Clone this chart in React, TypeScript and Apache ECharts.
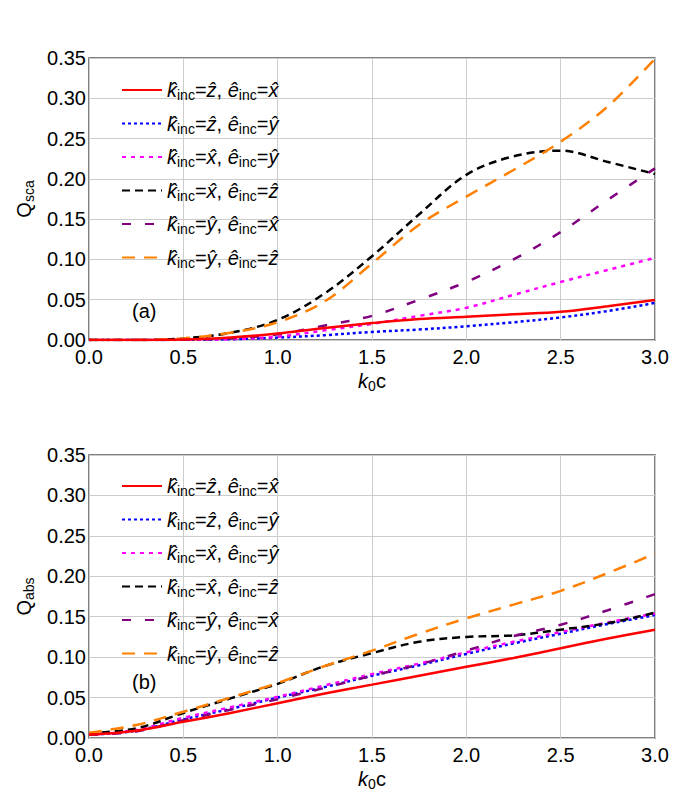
import React, { useEffect, useRef } from "react";
import * as echarts from "echarts";

const xValues = [0, 0.25, 0.5, 0.75, 1.0, 1.25, 1.5, 1.75, 2.0, 2.25, 2.5, 2.75, 3.0];

const kDirs = ["ẑ", "ẑ", "x̂", "x̂", "ŷ", "ŷ"];
const eDirs = ["x̂", "ŷ", "ŷ", "ẑ", "x̂", "ẑ"];
const seriesNames = kDirs.map((k, i) => `k̂inc=${k}, êinc=${eDirs[i]}`);

// Q_sca (panel a)
const scaRed = [0, 0, 0.0005, 0.003, 0.008, 0.015, 0.021, 0.026, 0.029, 0.032, 0.035, 0.042, 0.0496];
const scaBlue = [0, 0, 0.0002, 0.001, 0.003, 0.006, 0.010, 0.013, 0.017, 0.022, 0.028, 0.036, 0.046];
const scaMagenta = [0, 0, 0.0003, 0.001, 0.004, 0.012, 0.020, 0.030, 0.040, 0.056, 0.072, 0.087, 0.102];
const scaBlack = [0, 0, 0.002, 0.009, 0.025, 0.058, 0.104, 0.156, 0.205, 0.228, 0.235, 0.221, 0.206];
const scaPurple = [0, 0, 0.0004, 0.002, 0.007, 0.018, 0.030, 0.050, 0.072, 0.100, 0.134, 0.174, 0.213];
const scaOrange = [0, 0, 0.002, 0.009, 0.022, 0.048, 0.095, 0.143, 0.178, 0.211, 0.246, 0.290, 0.349];

// Q_abs (panel b)
const absRed = [0.004, 0.009, 0.020, 0.031, 0.043, 0.055, 0.066, 0.077, 0.088, 0.099, 0.111, 0.123, 0.134];
const absBlue = [0.004, 0.009, 0.023, 0.036, 0.050, 0.063, 0.077, 0.090, 0.104, 0.117, 0.129, 0.141, 0.152];
const absMagenta = [0.004, 0.010, 0.025, 0.038, 0.051, 0.065, 0.079, 0.092, 0.106, 0.119, 0.131, 0.143, 0.154];
const absBlack = [0.006, 0.012, 0.031, 0.049, 0.067, 0.089, 0.105, 0.119, 0.125, 0.127, 0.134, 0.142, 0.155];
const absPurple = [0.004, 0.008, 0.022, 0.035, 0.048, 0.062, 0.077, 0.091, 0.108, 0.126, 0.140, 0.158, 0.178];
const absOrange = [0.0066, 0.016, 0.0325, 0.050, 0.068, 0.089, 0.108, 0.129, 0.148, 0.165, 0.182, 0.204, 0.228];

const scaData = [scaRed, scaBlue, scaMagenta, scaBlack, scaPurple, scaOrange];
const absData = [absRed, absBlue, absMagenta, absBlack, absPurple, absOrange];

const colors = ["#ff0000", "#0000ff", "#ff00ff", "#000000", "#800080", "#ff8000"];
const dashes: (string | number[])[] = ["solid", [3, 3], [4, 5], [8, 5], [9, 14], [13, 9]];

const FONT = "Liberation Sans, Arial, sans-serif";

const richStyles = {
  n: { fontSize: 20, fontFamily: FONT, color: "#000", lineHeight: 24, verticalAlign: "middle" },
  i: { fontSize: 20, fontFamily: FONT, fontStyle: "italic", color: "#000", lineHeight: 24, verticalAlign: "middle" },
  s: { fontSize: 14, fontFamily: FONT, color: "#000", lineHeight: 14, verticalAlign: "bottom" },
};

function legendLabel(name: string) {
  const idx = seriesNames.indexOf(name);
  const k = kDirs[idx];
  const e = eDirs[idx];
  return `{i|k̂}{s|inc}{n|=}{i|${k}}{n|, }{i|ê}{s|inc}{n|=}{i|${e}}`;
}

export default function App() {
  const ref = useRef<HTMLDivElement>(null);
  useEffect(() => {
    document.body.style.margin = "0";
    const chart = echarts.init(ref.current!, undefined, { renderer: "svg" });
    const grids = [
      { left: 89, top: 58, width: 566, height: 282 },
      { left: 89, top: 455, width: 566, height: 283 },
    ];
    const xAxis = [0, 1].map((g) => ({
      type: "value",
      gridIndex: g,
      min: 0,
      max: 3,
      interval: 0.5,
      name: "{i|k}{s|0}{n|c}",
      nameLocation: "middle",
      nameGap: 29,
      nameTextStyle: { rich: richStyles },
      axisLine: { show: false },
      axisTick: { show: false },
      axisLabel: {
        formatter: (v: number) => v.toFixed(1),
        fontSize: 20,
        fontFamily: FONT,
        color: "#000",
        margin: 7,
      },
      splitLine: { show: true, lineStyle: { color: "#cccccc", width: 1 } },
    }));
    const yNames = ["{n|Q}{s|sca}", "{n|Q}{s|abs}"];
    const yAxis = [0, 1].map((g) => ({
      type: "value",
      gridIndex: g,
      min: 0,
      max: 0.35,
      interval: 0.05,
      name: yNames[g],
      nameLocation: "middle",
      nameGap: 43,
      nameTextStyle: { rich: richStyles },
      axisLine: { show: false },
      axisTick: { show: false },
      axisLabel: {
        formatter: (v: number) => v.toFixed(2),
        fontSize: 20,
        fontFamily: FONT,
        color: "#000",
        margin: 3,
      },
      splitLine: { show: true, lineStyle: { color: "#cccccc", width: 1 } },
    }));
    const series: any[] = [];
    [scaData, absData].forEach((set, g) => {
      set.forEach((vals, i) => {
        series.push({
          type: "line",
          name: seriesNames[i],
          xAxisIndex: g,
          yAxisIndex: g,
          data: xValues.map((x, j) => [x, vals[j]]),
          showSymbol: false,
          symbol: "none",
          smooth: 0.35,
          color: colors[i],
          lineStyle: { color: colors[i], width: 2.5, type: dashes[i] },
          z: i === 0 ? 5 : 3,
        });
      });
    });
    const legends = [75, 471].map((top) => ({
      show: true,
      orient: "vertical",
      left: 116,
      top,
      itemWidth: 40,
      itemHeight: 14,
      itemGap: 11.5,
      selectedMode: false,
      data: seriesNames,
      formatter: legendLabel,
      itemStyle: { color: "transparent", borderColor: "transparent", borderWidth: 0, opacity: 0 },
      textStyle: { rich: richStyles },
    }));
    chart.setOption({
      animation: false,
      backgroundColor: "#ffffff",
      grid: grids.map((g) => ({ ...g, show: true, borderColor: "#555555", borderWidth: 1.5, backgroundColor: "transparent" })),
      xAxis,
      yAxis,
      legend: legends,
      series,
      graphic: [
        { type: "text", left: 132, top: 301, style: { text: "(a)", fontSize: 20, fontFamily: FONT, fill: "#000" } },
        { type: "text", left: 132, top: 672, style: { text: "(b)", fontSize: 20, fontFamily: FONT, fill: "#000" } },
      ],
    });
    return () => chart.dispose();
  }, []);
  return <div ref={ref} style={{ width: 692, height: 809 }} />;
}
